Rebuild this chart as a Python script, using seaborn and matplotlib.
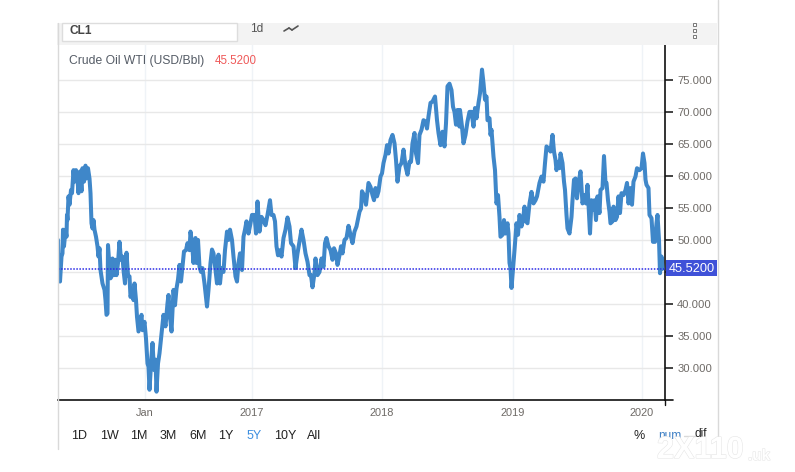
import matplotlib
matplotlib.use("Agg")
import matplotlib.pyplot as plt
import matplotlib.patheffects as pe
from matplotlib.lines import Line2D
from matplotlib.patches import Rectangle
import pandas as pd
import seaborn as sns

# values, session number against price
sessions = [0, 1, 4, 7, 9, 10, 12, 15, 17, 18, 19, 21, 23, 26, 28, 31, 33, 36, 39, 41, 44, 47, 49, 52, 55, 57, 60, 63, 65, 67, 69, 71, 73, 76, 79, 81, 83, 85, 89, 93, 95, 97, 99, 100, 102, 105, 107, 109, 112, 115, 117, 120, 123, 126, 129, 131, 134, 137, 140, 143, 145, 148, 151, 153, 156, 158, 161, 164, 167, 169, 173, 176, 179, 181, 183, 187, 189, 192, 195, 197, 200, 203,
            206, 211, 215, 219, 221, 224, 227, 231, 234, 237, 240, 243, 246, 249, 252, 256, 259, 263, 265, 268, 271, 275, 277, 280, 283, 286, 289, 293, 296, 298, 301, 305, 308, 311, 315, 318, 321, 324, 327, 331, 334, 338, 341, 344, 348, 351, 355, 358, 361, 364, 368, 371, 374, 377, 381, 385, 388, 393, 396, 399, 403,
            407, 411, 415, 419, 424, 427, 431, 434, 437, 440, 444, 447, 451, 455, 459, 463, 466, 471, 475, 479, 483, 487, 491, 495, 499, 503, 506, 509, 513, 515, 519, 523, 527, 531, 534, 537, 541, 545, 549, 552, 556, 559, 563, 566, 569, 573, 577, 581, 585, 589, 593, 597, 603,
            606, 608, 612, 616, 621, 625, 629, 632, 635, 638, 641, 645, 648, 651, 655, 658, 661, 665, 669, 673, 676, 679, 683, 687, 691, 695, 699, 703, 706, 709, 713, 716, 720, 723, 727, 731, 735, 738, 741, 745, 749, 754, 758, 761, 765, 769, 773, 776, 779, 783, 787, 790, 793, 796, 799, 803,
            804, 808, 811, 815, 819, 823, 827, 831, 834, 837, 841, 844, 848, 851, 854, 857, 859, 863, 865, 867, 871, 874, 877, 880, 883, 885, 889, 892, 895, 899, 901, 903, 905, 907, 911, 913, 917, 920, 923, 927, 930, 933, 936, 939, 943, 947, 951, 955, 958, 963, 967, 971, 974, 977, 981, 985, 989, 992, 995, 997, 1000, 1003,
            1005, 1009, 1012, 1014, 1017, 1019, 1023, 1027, 1029, 1032, 1035, 1038, 1041, 1045, 1047, 1049, 1053, 1056, 1059, 1062, 1064, 1067, 1070, 1073, 1076, 1079, 1083, 1085, 1089, 1092, 1095, 1097, 1100, 1103, 1105, 1109, 1111, 1115, 1118, 1121, 1124, 1127, 1131, 1135, 1138, 1141, 1145, 1148, 1151, 1155, 1158, 1163, 1167, 1170, 1173, 1175, 1177, 1181, 1183, 1187, 1190, 1194, 1197, 1199, 1202, 1204, 1207, 1209]
prices = [50.0, 46.9, 43.5, 47.4, 47.9, 51.6, 49.0, 51.6, 50.5, 53.9, 53.1, 56.8, 55.5, 57.8, 57.3, 60.9, 59.1, 60.9, 59.4, 57.3, 60.7, 57.6, 61.2, 59.1, 61.6, 59.6, 61.2, 59.6, 57.3, 52.6, 51.8, 53.1, 51.6, 50.5, 49.0, 47.4, 48.7, 45.3, 43.2, 42.2, 40.6, 38.3, 38.5, 49.2, 46.9, 44.0, 44.3, 47.1, 44.5, 46.9, 44.5, 46.4, 49.7, 46.9, 47.4, 45.3, 43.2, 48.0, 44.5, 44.3, 41.1, 41.9, 40.6, 43.2, 40.6, 38.0, 35.7, 37.0, 38.3, 35.9, 37.2, 34.6, 30.7, 30.2, 26.6, 31.8, 33.9, 29.7, 31.3, 26.3, 30.7, 32.3,
          34.6, 38.3, 36.5, 40.1, 41.4, 38.0, 35.7, 42.2, 39.8, 42.4, 43.8, 46.1, 43.5, 45.8, 48.2, 48.4, 49.5, 48.4, 51.3, 49.5, 46.4, 50.3, 46.4, 50.0, 45.8, 45.0, 45.6, 43.2, 41.1, 39.6, 42.2, 46.4, 48.5, 47.9, 45.3, 43.2, 47.7, 43.2, 45.6, 45.0, 48.4, 51.3, 50.0, 51.6, 50.0, 47.4, 44.3, 43.5, 46.4, 47.9, 45.3, 50.5, 51.6, 52.9, 51.0, 52.6, 53.9, 53.9, 51.0, 56.0, 51.3,
          53.6, 53.1, 52.3, 53.9, 56.2, 53.9, 53.9, 52.9, 49.0, 47.6, 48.4, 47.4, 50.3, 51.6, 53.5, 52.1, 49.5, 49.0, 45.6, 47.9, 49.7, 51.6, 50.0, 47.9, 46.6, 44.5, 44.5, 42.6, 44.8, 47.1, 44.5, 45.0, 47.1, 45.8, 49.5, 50.3, 49.0, 48.4, 46.9, 48.7, 47.9, 46.1, 47.6, 49.0, 47.9, 50.0, 50.3, 52.2, 50.8, 49.5, 51.3, 52.1, 54.4,
          54.9, 57.6, 57.0, 55.5, 58.9, 58.3, 57.0, 56.2, 58.1, 56.8, 57.6, 59.9, 60.4, 62.0, 63.3, 64.8, 63.5, 65.6, 66.4, 65.1, 62.5, 59.1, 61.5, 62.0, 64.1, 61.5, 60.2, 62.2, 62.2, 65.1, 66.7, 63.5, 62.0, 66.4, 67.2, 68.7, 68.5, 67.4, 69.3, 71.4, 71.6, 72.4, 68.7, 66.7, 64.8, 66.9, 64.6, 68.2, 74.0, 74.4, 73.4, 70.8, 70.0, 68.0, 70.3, 67.7,
          70.3, 67.7, 65.1, 66.4, 68.5, 70.0, 70.0, 67.7, 70.6, 69.0, 71.4, 72.9, 76.6, 74.5, 71.9, 72.4, 68.7, 69.0, 66.4, 67.2, 63.0, 60.9, 55.7, 57.0, 53.6, 50.5, 50.8, 53.1, 51.0, 52.6, 51.0, 46.4, 45.6, 42.5, 46.4, 48.4, 52.6, 50.8, 53.9, 52.1, 53.1, 55.2, 52.9, 52.6, 55.7, 57.5, 55.7, 56.2, 56.8, 58.9, 59.9, 59.1, 62.0, 64.6, 64.3, 63.8, 66.4, 63.8, 62.5, 60.9, 62.2, 61.2,
          63.5, 62.0, 59.1, 57.8, 53.9, 51.8, 51.0, 53.6, 56.2, 59.4, 59.6, 56.5, 58.8, 60.7, 58.3, 55.7, 57.0, 55.7, 58.6, 53.9, 51.0, 56.2, 54.7, 56.2, 53.1, 56.8, 54.2, 57.8, 58.1, 63.1, 58.9, 58.9, 56.2, 54.4, 52.6, 52.9, 55.2, 53.1, 53.6, 56.8, 54.2, 57.3, 57.0, 57.8, 58.9, 55.7, 58.1, 55.5, 59.1, 59.9, 61.2, 60.9, 61.2, 63.5, 62.0, 59.4, 58.6, 58.1, 53.9, 53.4, 49.7, 49.7, 52.6, 53.9, 50.0, 44.8, 47.4, 45.5]

last_price = 45.52
y_ticks = [30, 35, 40, 45, 50, 55, 60, 65, 70, 75]
x_tick_sessions = [173, 388, 647, 910, 1167]
x_tick_labels = ["Jan", "2017", "2018", "2019", "2020"]
ranges = ["1D", "1W", "1M", "3M", "6M", "1Y", "5Y", "10Y", "All"]
range_x = [79, 109, 139, 168, 198, 226, 254, 285, 314]

W, H = 795, 472
sns.set_style("white")
plt.rcParams["font.family"] = ["Liberation Sans", "DejaVu Sans"]

fig = plt.figure(figsize=(W / 100, H / 100), dpi=100)


def fx(x):
    return x / W


def fy(y):
    return 1 - y / H


def rect(x0, y0, x1, y1, **kw):
    fig.add_artist(Rectangle((fx(x0), fy(y1)), (x1 - x0) / W, (y1 - y0) / H, transform=fig.transFigure, **kw))


def seg(x0, y0, x1, y1, **kw):
    fig.add_artist(Line2D([fx(x0), fx(x1)], [fy(y0), fy(y1)], transform=fig.transFigure, **kw))


def label(x, y, s, **kw):
    fig.text(fx(x), fy(y), s, va="center", **kw)


# toolbar band and frame
rect(57, 23, 717, 45, fc="#f3f3f3", ec="none")
rect(62, 23, 237, 41, fc="white", ec="#dddddd", lw=1)
seg(57.5, 23, 57.5, 449, color="#d9d9d9", lw=1)
seg(717.5, 0, 717.5, 437, color="#d9d9d9", lw=1)

ax = fig.add_axes([fx(58), fy(400), (665 - 58) / W, (400 - 44) / H])
ax.patch.set_alpha(0)
df = pd.DataFrame({"session": sessions, "price": prices})
sns.lineplot(data=df, x="session", y="price", color="#3f87c9", lw=2.9, estimator=None, sort=False, ax=ax, zorder=3)
ax.axhline(last_price, color="#2b2be6", lw=1.1, ls=(0, (1, 1)), zorder=4)

ax.set_xlim(0, 1214)
ax.set_ylim(25, 80.6)
ax.set_xlabel("")
ax.set_ylabel("")
ax.set_yticks(y_ticks)
# the 45 label sits behind the price flag
ax.set_yticklabels(["" if v == 45 else f"{v:.3f}" for v in y_ticks])
ax.set_xticks(x_tick_sessions)
ax.set_xticklabels(x_tick_labels)
ax.yaxis.tick_right()
ax.tick_params(axis="y", length=5.8, width=1.2, color="#222222", labelcolor="#6e6a66", labelsize=8.1, pad=3, right=True)
ax.tick_params(axis="x", length=0, labelcolor="#6e6a66", labelsize=7.9, pad=5.5)
ax.grid(axis="y", color="#e8e8e8", lw=1)
ax.grid(axis="x", color="#eff3f7", lw=1)
ax.set_axisbelow(True)
for side in ["top", "left"]:
    ax.spines[side].set_visible(False)
for side in ["right", "bottom"]:
    ax.spines[side].set_color("#111111")
    ax.spines[side].set_linewidth(1.2)
seg(665, 400, 673, 400, color="#111111", lw=1.2)
seg(665, 400, 665, 405, color="#111111", lw=1)

# price flag
rect(666, 260, 717, 276, fc="#3f51d8", ec="none")
label(691.5, 268.5, f"{last_price:.4f}", color="white", fontsize=9.2, ha="center")

# header text
label(69, 30.5, "CL1", color="#444444", fontsize=8.6, fontweight="bold")
label(250, 29, "1d", color="#555555", fontsize=8.6)
seg(284, 31, 289, 28, color="#555555", lw=1.2)
seg(289, 28, 292, 30, color="#555555", lw=1.2)
seg(292, 30, 298, 26, color="#555555", lw=1.2)
label(69, 61, "Crude Oil WTI (USD/Bbl)", color="#555c66", fontsize=8.75)
label(215, 61, f"{last_price:.4f}", color="#ef5a5a", fontsize=8.3)
for dot_y in [23, 29, 35]:
    rect(693, dot_y, 696, dot_y + 3, fc="white", ec="#777777", lw=0.7)

# range buttons
for txt, x in zip(ranges, range_x):
    label(x, 436, txt, color="#3d8fe0" if txt == "5Y" else "#222222", fontsize=9, ha="center")
label(639, 436, "%", color="#222222", fontsize=9, ha="center")
label(670, 436, "num", color="#3d7fc4", fontsize=8.6, ha="center")
rect(655, 437, 690, 446, fc="white", ec="none")
seg(684, 436, 695, 436, color="#d9d9d9", lw=1)
label(701, 434, "dif", color="#222222", fontsize=8.6, ha="center")

# faint watermark
outline = [pe.withStroke(linewidth=0.8, foreground="#e6e6e6")]
label(657, 450, "2X110", color="white", fontsize=22, fontweight="bold", path_effects=outline)
label(748, 456, ".uk", color="white", fontsize=11, fontweight="bold", path_effects=outline)

fig.savefig("out.png", dpi=100)
